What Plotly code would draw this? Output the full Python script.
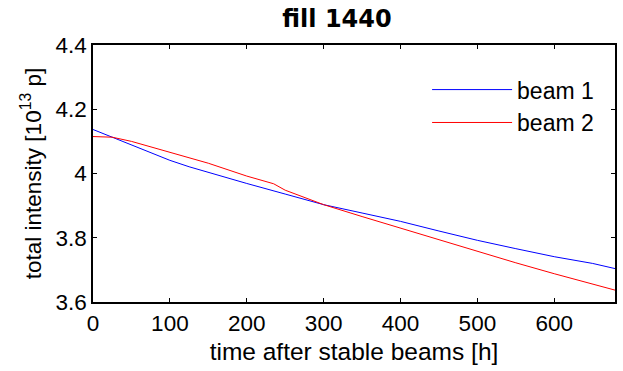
import plotly.graph_objects as go

time_h = [0, 25, 50, 75, 100, 125, 150, 200, 250, 300, 350, 400, 450, 500, 550, 600, 650, 679]
beam1 = [4.137, 4.113, 4.090, 4.064, 4.041, 4.021, 4.003, 3.969, 3.936, 3.903, 3.877, 3.851, 3.821, 3.792, 3.766, 3.741, 3.720, 3.704]

time_h2 = [0, 25, 50, 100, 150, 200, 235, 250, 300, 350, 400, 450, 500, 550, 600, 650, 679]
beam2 = [4.115, 4.113, 4.100, 4.067, 4.032, 3.992, 3.968, 3.948, 3.903, 3.866, 3.830, 3.794, 3.757, 3.722, 3.688, 3.656, 3.637]

x_ticks = [0, 100, 200, 300, 400, 500, 600]
y_ticks = [3.6, 3.8, 4.0, 4.2, 4.4]
y_tick_labels = ["3.6", "3.8", "4", "4.2", "4.4"]

fig = go.Figure()
fig.add_trace(go.Scatter(x=time_h, y=beam1, mode="lines", name="beam 1",
                         line=dict(color="#0000ff", width=1)))
fig.add_trace(go.Scatter(x=time_h2, y=beam2, mode="lines", name="beam 2",
                         line=dict(color="#ff0000", width=1)))

axis_common = dict(showline=True, linecolor="black", linewidth=1.5, mirror="ticks",
                   ticks="inside", ticklen=4, tickcolor="black", showgrid=False,
                   zeroline=False, tickfont=dict(size=22.5, color="black"))

fig.update_layout(
    width=623, height=371,
    margin=dict(l=93, r=6, t=45, b=69),
    paper_bgcolor="white", plot_bgcolor="white",
    font=dict(family="Liberation Sans, Arial, sans-serif", color="black"),
    title=dict(text="<b>fill 1440</b>", x=337/623, xanchor="center", xref="container",
               y=1 - 18.5/371, yanchor="middle", yref="container",
               font=dict(family="DejaVu Sans", size=24, color="black")),
    xaxis=dict(range=[0, 679], tickvals=x_ticks,
               title=dict(text="time after stable beams [h]", font=dict(size=24.5), standoff=8),
               **axis_common),
    yaxis=dict(range=[3.6, 4.4], tickvals=y_ticks, ticktext=y_tick_labels,
               title=dict(text="total intensity [10<sup>13</sup> p]", font=dict(size=22.5), standoff=8),
               **axis_common),
    legend=dict(x=0.64, y=0.91, xanchor="left", yanchor="top", bgcolor="rgba(0,0,0,0)",
                font=dict(size=23), itemwidth=80),
    showlegend=True,
)

fig.write_html("out.html")
